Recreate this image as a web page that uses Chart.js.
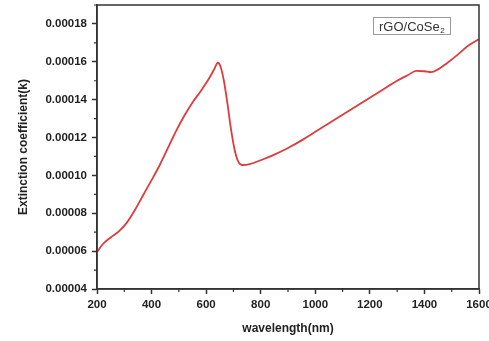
<!DOCTYPE html>
<html>
<head>
<meta charset="utf-8">
<script src="https://cdn.jsdelivr.net/npm/chart.js@4.4.1/dist/chart.umd.min.js"></script>
<style>
  html, body { margin: 0; padding: 0; background: #fff; }
  #wrap { width: 489px; height: 341px; }
</style>
</head>
<body>
<div id="wrap"><canvas id="chart" width="489" height="341"></canvas></div>
<script>
// wavelength (nm) and extinction coefficient k
const wavelength = [200, 220, 250, 280, 310, 340, 370, 400, 430, 460, 490, 520, 550, 580, 610, 630, 643, 652, 665, 678, 690, 703, 716, 732, 760, 800, 850, 900, 950, 1000, 1050, 1100, 1150, 1200, 1250, 1300, 1340, 1370, 1400, 1425, 1450, 1480, 1520, 1560, 1600];
const extinction = [0.0000594, 0.0000635, 0.0000672, 0.0000704, 0.0000752, 0.0000820, 0.0000898, 0.0000975, 0.0001055, 0.0001145, 0.0001235, 0.0001315, 0.0001385, 0.0001445, 0.0001510, 0.0001562, 0.0001595, 0.0001578, 0.0001500, 0.0001380, 0.0001255, 0.0001145, 0.0001078, 0.0001055, 0.0001060, 0.0001080, 0.0001110, 0.0001145, 0.0001185, 0.0001230, 0.0001275, 0.0001320, 0.0001365, 0.0001410, 0.0001455, 0.0001500, 0.0001530, 0.0001552, 0.0001550, 0.0001545, 0.0001560, 0.0001590, 0.0001635, 0.0001685, 0.0001720];
const xTicks = [200, 400, 600, 800, 1000, 1200, 1400, 1600];
const yTicks = [0.00004, 0.00006, 0.00008, 0.00010, 0.00012, 0.00014, 0.00016, 0.00018];
const seriesName = 'rGO/CoSe';
const seriesSub = '2';

const FONT = '"Liberation Sans", Arial, sans-serif';
const INK = '#222';

// box around the plot plus small minor ticks between the labelled ones
const framePlugin = {
  id: 'frame',
  afterDraw(chart) {
    const { ctx, chartArea: a, scales: { x, y } } = chart;
    ctx.save();
    ctx.strokeStyle = '#333';
    ctx.lineWidth = 1.5;
    ctx.strokeRect(a.left, a.top, a.right - a.left, a.bottom - a.top);

    ctx.lineWidth = 1.2;
    ctx.beginPath();
    for (let i = 0; i < xTicks.length - 1; i++) {
      const px = x.getPixelForValue((xTicks[i] + xTicks[i + 1]) / 2);
      ctx.moveTo(px, a.bottom);
      ctx.lineTo(px, a.bottom + 3);
    }
    for (let i = 0; i < yTicks.length; i++) {
      const next = i + 1 < yTicks.length ? yTicks[i + 1] : yTicks[i] + 0.00002;
      const py = y.getPixelForValue((yTicks[i] + next) / 2);
      if (py < a.top) continue;
      ctx.moveTo(a.left, py);
      ctx.lineTo(a.left - 3, py);
    }
    ctx.stroke();
    ctx.restore();
  }
};

// series label in a box, with a subscript 2
const labelPlugin = {
  id: 'seriesLabel',
  afterDraw(chart) {
    const { ctx } = chart;
    ctx.save();
    ctx.strokeStyle = '#999';
    ctx.lineWidth = 1;
    ctx.strokeRect(373.5, 17.5, 77, 17);
    ctx.fillStyle = '#333';
    ctx.textBaseline = 'alphabetic';
    ctx.font = '13px ' + FONT;
    ctx.fillText(seriesName, 379, 30.5);
    const w = ctx.measureText(seriesName).width;
    ctx.font = '8px ' + FONT;
    ctx.fillText(seriesSub, 379 + w + 0.5, 33);
    ctx.restore();
  }
};

new Chart(document.getElementById('chart'), {
  type: 'line',
  data: {
    datasets: [{
      label: seriesName + seriesSub,
      data: wavelength.map((w, i) => ({ x: w, y: extinction[i] })),
      borderColor: '#dd3c3e',
      borderWidth: 1.8,
      pointRadius: 0,
      fill: false,
      cubicInterpolationMode: 'monotone'
    }]
  },
  options: {
    responsive: false,
    animation: false,
    layout: { padding: { top: 5, right: 10, left: 0, bottom: 0 } },
    plugins: { legend: { display: false }, tooltip: { enabled: false } },
    scales: {
      x: {
        type: 'linear',
        min: 200,
        max: 1600,
        afterBuildTicks: s => { s.ticks = xTicks.map(v => ({ value: v })); },
        afterFit: s => { s.height = 52; s.paddingLeft = 0; s.paddingRight = 0; },
        grid: { drawOnChartArea: false, drawTicks: true, tickLength: 5, tickColor: '#333', tickWidth: 1.5 },
        border: { display: true, color: '#333', width: 1.5 },
        ticks: {
          color: INK,
          padding: 4,
          maxRotation: 0,
          autoSkip: false,
          font: { family: FONT, size: 11.5, weight: 'bold' },
          callback: v => String(v)
        },
        title: {
          display: true,
          text: 'wavelength(nm)',
          color: INK,
          padding: { top: 0, bottom: 5 },
          font: { family: FONT, size: 12, weight: 'bold' }
        }
      },
      y: {
        min: 0.00004,
        max: 0.00019,
        afterBuildTicks: s => { s.ticks = yTicks.map(v => ({ value: v })); },
        afterFit: s => { s.width = 97; s.paddingTop = 0; s.paddingBottom = 0; },
        grid: { drawOnChartArea: false, drawTicks: true, tickLength: 5, tickColor: '#333', tickWidth: 1.5 },
        border: { display: true, color: '#333', width: 1.5 },
        ticks: {
          color: INK,
          padding: 5,
          autoSkip: false,
          font: { family: FONT, size: 11.5, weight: 'bold' },
          callback: v => Number(v).toFixed(5)
        },
        title: {
          display: true,
          text: 'Extinction coefficient(k)',
          color: INK,
          padding: { top: 16, bottom: 0 },
          font: { family: FONT, size: 12, weight: 'bold' }
        }
      }
    }
  },
  plugins: [framePlugin, labelPlugin]
});
</script>
</body>
</html>
